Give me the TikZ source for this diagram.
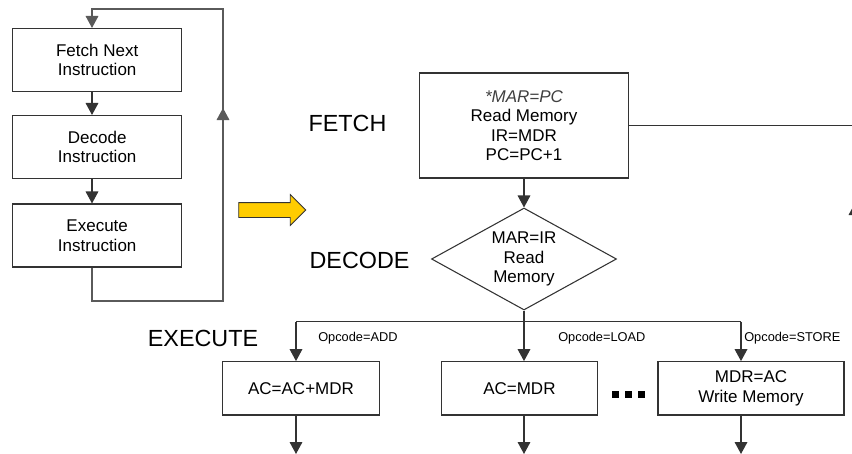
\documentclass[tikz,border=0pt]{standalone}
\usepackage{fontspec}
\setmainfont{Liberation Sans}
\usetikzlibrary{arrows.meta, shapes.geometric, shapes.arrows}
\definecolor{cLine}{HTML}{333333}
\definecolor{cLoop}{HTML}{5A5A5A}
\definecolor{cGold}{HTML}{FFCC00}

\begin{document}
\begin{tikzpicture}[
  x=0.75pt, y=-0.75pt,
  every node/.style={font=\fontsize{12.75}{14.6}\selectfont},
  box/.style={draw=cLine, line width=0.8pt, inner sep=0pt, align=center},
  phase/.style={font=\fontsize{17.5}{20}\selectfont},
  oplabel/.style={font=\fontsize{9.6}{11}\selectfont, anchor=west, inner sep=0pt},
  flow/.style={draw=cLine, line width=0.9pt},
  >={Triangle[length=9pt, width=9.5pt]},
]
  \useasboundingbox (0,0) rectangle (852,453);
  \clip (0,0) rectangle (852,453);

  % Generic cycle
  \node[box, minimum width=126.75pt, minimum height=47.25pt] (fetchnext) at (97.2,60) {Fetch Next\\Instruction};
  \node[box, minimum width=126.75pt, minimum height=47.25pt] (decodeinstr) at (97.2,147) {Decode\\Instruction};
  \node[box, minimum width=126.75pt, minimum height=47.25pt] (execinstr) at (97.2,235.5) {Execute\\Instruction};

  \coordinate (loopx) at (92,0);
  \coordinate (loopbl) at (92,301);
  \coordinate (loopbr) at (223,301);
  \coordinate (looptr) at (223,9);
  \coordinate (looptl) at (92,9);
  \coordinate (loopmid) at (223,108);

  \draw[flow, ->] (fetchnext.south -| loopx) -- (decodeinstr.north -| loopx);
  \draw[flow, ->] (decodeinstr.south -| loopx) -- (execinstr.north -| loopx);
  \draw[flow, draw=cLoop, ->] (execinstr.south -| loopx) -- (loopbl) -- (loopbr) -- (looptr) -- (looptl) -- (fetchnext.north -| loopx);
  \draw[flow, draw=cLoop, ->] (loopbr) -- (loopmid);

  % Expansion arrow
  \node[single arrow, draw=cLine, fill=cGold, line width=0.6pt, inner sep=0pt, inner ysep=5.25pt,
        single arrow head extend=6pt, minimum height=50.25pt] (bigarrow) at (268.5,210) {};

  % Phase labels
  \node[phase] (lblfetch) at (347.5,123) {FETCH};
  \node[phase] (lbldecode) at (359.5,260) {DECODE};
  \node[phase] (lblexec) at (203,338) {EXECUTE};

  % Fetch and decode
  \node[box, minimum width=156.75pt, minimum height=78.75pt] (fetchbox) at (524,125.5)
    {{\itshape\color{black!75}*MAR=PC}\\Read Memory\\IR=MDR\\PC=PC+1};
  \node[diamond, draw=cLine, line width=0.8pt, inner sep=0pt, aspect=1.8, align=center,
        minimum width=138.75pt, minimum height=76.5pt] (decide) at (524,259) {MAR=IR\\Read\\Memory};

  \coordinate (fetchout) at (855,125.5);
  \coordinate (backlow) at (855,260);
  \coordinate (backup) at (855,203);
  \draw[flow] (fetchbox.east) -- (fetchout);
  \draw[flow, ->] (backlow) -- (backup);
  \draw[flow, ->] (fetchbox.south) -- (decide.north);

  % Execute branches
  \node[box, minimum width=117.2pt, minimum height=40pt] (addbox) at (301,388.3) {AC=AC+MDR};
  \node[box, minimum width=116.5pt, minimum height=40pt] (loadbox) at (519.4,388.3) {AC=MDR};
  \node[box, minimum width=139.5pt, minimum height=40pt] (storebox) at (751,388.3) {MDR=AC\\Write Memory};

  \coordinate (split) at (524,321.5);
  \coordinate (branchL) at (296,321.5);
  \coordinate (branchR) at (741,321.5);
  \draw[flow] (decide.south) -- (split);
  \draw[flow] (branchL) -- (branchR);
  \draw[flow, ->] (branchL) -- (addbox.north -| branchL);
  \draw[flow, ->] (split) -- (loadbox.north -| split);
  \draw[flow, ->] (branchR) -- (storebox.north -| branchR);

  \node[oplabel] (opadd) at (318,338) {Opcode=ADD};
  \node[oplabel] (opload) at (558,338) {Opcode=LOAD};
  \node[oplabel] (opstore) at (744,338) {Opcode=STORE};

  \foreach \dx in {0,13,26}
    \fill[black] (612+\dx,390.5) rectangle ++(7,7);

  \coordinate (addout) at (296,454);
  \coordinate (loadout) at (524,454);
  \coordinate (storeout) at (741,454);
  \draw[flow, ->] (addbox.south -| branchL) -- (addout);
  \draw[flow, ->] (loadbox.south -| split) -- (loadout);
  \draw[flow, ->] (storebox.south -| branchR) -- (storeout);
\end{tikzpicture}
\end{document}
